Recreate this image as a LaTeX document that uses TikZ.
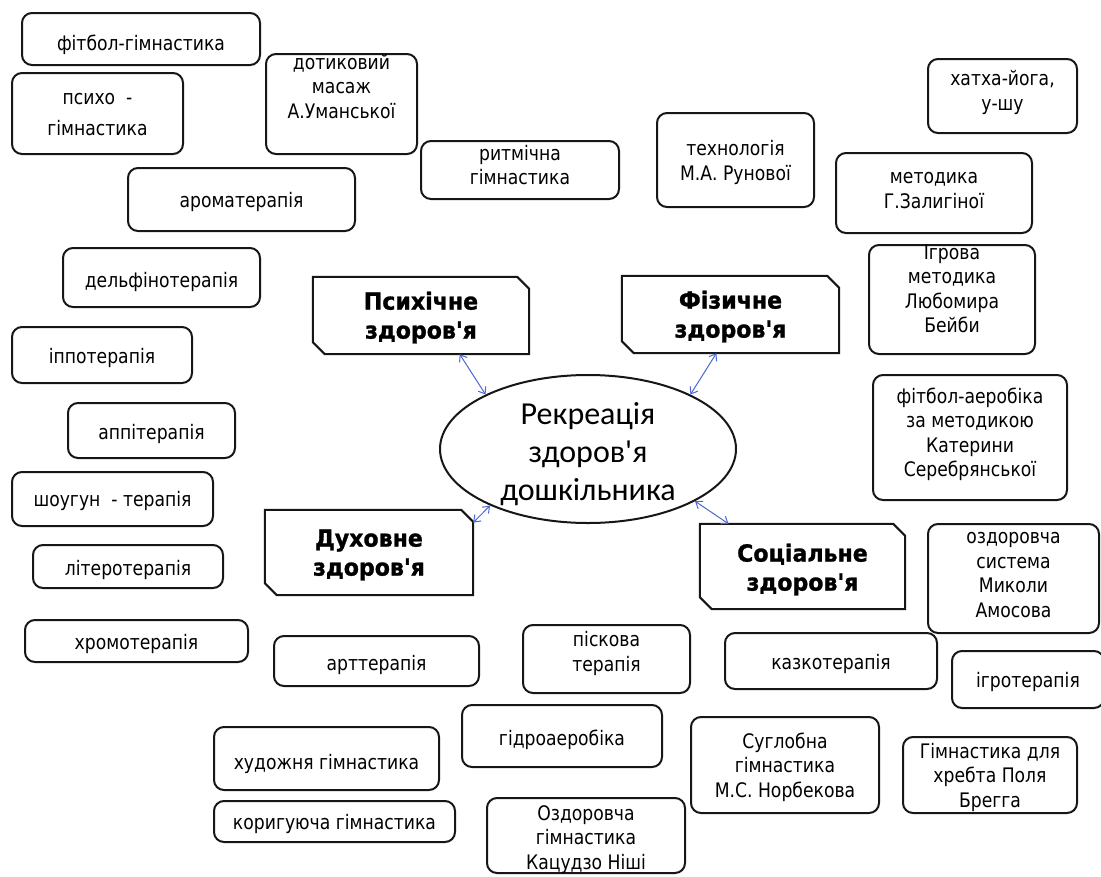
\documentclass[tikz,border=0pt]{standalone}
\usepackage{fontspec}
\newfontfamily\bxf{DejaVu Sans}[FakeStretch=0.86]
\newfontfamily\bdf{DejaVu Sans}[FakeStretch=0.94, BoldFeatures={FakeBold=1.2}]
\newfontfamily\elf{Carlito}
\usetikzlibrary{shapes.geometric,arrows.meta}
\definecolor{arrowblue}{RGB}{72,104,214}
\definecolor{edgecol}{RGB}{22,22,22}
\newcommand\tx[2][0pt]{\raisebox{\dimexpr#1-4pt\relax}[0pt][0pt]{\begin{tabular}{@{}c@{}}#2\end{tabular}}}
\newcommand\chamf[1]{\draw[catline] (#1.north west) -- ([xshift=-12pt]#1.north east)
  -- ([yshift=-12pt]#1.north east) -- (#1.south east) -- ([xshift=12pt]#1.south west)
  -- ([yshift=12pt]#1.south west) -- cycle;}
\tikzset{
  rbox/.style={draw=edgecol, line width=2pt, rounded corners=10pt, inner sep=0pt,
    font=\bxf\fontsize{20}{24.5}\selectfont},
  catbox/.style={rectangle, inner sep=0pt,
    font=\bdf\bfseries\fontsize{23.5}{29}\selectfont},
  catline/.style={draw=edgecol, line width=2pt},
  hub/.style={ellipse, draw=edgecol, line width=2pt, inner sep=0pt,
    font=\elf\fontsize{32}{38}\selectfont},
  link/.style={draw=arrowblue, line width=1pt,
    {Straight Barb[length=6pt,width=9pt]}-{Straight Barb[length=6pt,width=9pt]}},
}
\begin{document}
\begin{tikzpicture}[x=1pt,y=-1pt]
\useasboundingbox (0,0) rectangle (1101,876);
% centre
\node[hub, minimum width=296pt, minimum height=148pt] (ell) at (588,449)
  {\tx[-8pt]{Рекреація\\здоров'я\\дошкільника}};
% category boxes
\node[catbox, minimum width=216pt, minimum height=77pt] (psy) at (421,315.5) {\tx[-5pt]{Психічне\\здоров'я}};
\node[catbox, minimum width=217pt, minimum height=77pt] (phy) at (730.5,314.5) {\tx[-5pt]{Фізичне\\здоров'я}};
\node[catbox, minimum width=208pt, minimum height=85pt] (spi) at (369,552.5) {\tx[-5pt]{Духовне\\здоров'я}};
\node[catbox, minimum width=205pt, minimum height=85pt] (soc) at (802.5,566.5) {\tx[-6pt]{Соціальне\\здоров'я}};
\chamf{psy}
\chamf{phy}
\chamf{spi}
\chamf{soc}
% rounded boxes
\node[rbox, minimum width=238pt, minimum height=52pt] (fitg) at (141,39) {\tx[-8pt]{фітбол-гімнастика}};
\node[rbox, minimum width=171pt, minimum height=81pt] (psyg) at (97.5,113.5) {\tx[-3pt]{психо\ \ -\\[6pt]гімнастика}};
\node[rbox, minimum width=151pt, minimum height=100pt] (dotyk) at (341.5,104) {\tx[14pt]{дотиковий\\масаж\\А.Уманської}};
\node[rbox, minimum width=198pt, minimum height=58pt] (ritm) at (520,170) {\tx[1pt]{ритмічна\\гімнастика}};
\node[rbox, minimum width=227pt, minimum height=63pt] (arom) at (241.5,199.5) {\tx[-4pt]{ароматерапія}};
\node[rbox, minimum width=157pt, minimum height=94pt] (tech) at (735.5,160) {\tx[-4.5pt]{технологія\\М.А. Рунової}};
\node[rbox, minimum width=149pt, minimum height=74pt] (hatha) at (1002.5,96) {\tx[1.5pt]{хатха-йога,\\у-шу}};
\node[rbox, minimum width=196pt, minimum height=80pt] (zal) at (934,193) {\tx[0.5pt]{методика\\Г.Залигіної}};
\node[rbox, minimum width=166pt, minimum height=109pt] (igr) at (952,299.5) {\tx[7pt]{Ігрова\\методика\\Любомира\\Бейби}};
\node[rbox, minimum width=197pt, minimum height=59pt] (delf) at (161.5,277.5) {\tx[-6pt]{дельфінотерапія}};
\node[rbox, minimum width=180pt, minimum height=56pt] (ippo) at (102,355) {\tx[-5pt]{іппотерапія}};
\node[rbox, minimum width=167pt, minimum height=55pt] (appi) at (151.5,430.5) {\tx[-5pt]{аппітерапія}};
\node[rbox, minimum width=201pt, minimum height=54pt] (shou) at (112.5,499) {\tx[-4pt]{шоугун\ \ - терапія}};
\node[rbox, minimum width=190pt, minimum height=43pt] (liter) at (128,566.5) {\tx[-5pt]{літеротерапія}};
\node[rbox, minimum width=223pt, minimum height=42pt] (chrom) at (136.5,641) {\tx[-5pt]{хромотерапія}};
\node[rbox, minimum width=194pt, minimum height=125pt] (fitaer) at (970,437.5) {\tx[1pt]{фітбол-аеробіка\\за методикою\\Катерини\\Серебрянської}};
\node[rbox, minimum width=171pt, minimum height=109pt] (amos) at (1013.5,578.5) {\tx[1.5pt]{оздоровча\\система\\Миколи\\Амосова}};
\node[rbox, minimum width=152pt, minimum height=57pt] (igro) at (1028,679.5) {\tx[-4.5pt]{ігротерапія}};
\node[rbox, minimum width=212pt, minimum height=56pt] (kazk) at (831,661) {\tx[-5pt]{казкотерапія}};
\node[rbox, minimum width=167pt, minimum height=68pt] (pisk) at (606.5,659) {\tx[3.5pt]{піскова\\терапія}};
\node[rbox, minimum width=205pt, minimum height=50pt] (art) at (376.5,661) {\tx[-6pt]{арттерапія}};
\node[rbox, minimum width=200pt, minimum height=62pt] (hydro) at (562,736) {\tx[-6pt]{гідроаеробіка}};
\node[rbox, minimum width=225pt, minimum height=63pt] (hud) at (326.5,758.5) {\tx[-7pt]{художня гімнастика}};
\node[rbox, minimum width=241pt, minimum height=41pt] (kor) at (334.5,821.5) {\tx[-4pt]{коригуюча гімнастика}};
\node[rbox, minimum width=198pt, minimum height=75pt] (ozd) at (586,835.5) {\tx[-5.5pt]{Оздоровча\\гімнастика\\Кацудзо Ніші}};
\node[rbox, minimum width=188pt, minimum height=96pt] (sugl) at (785,765) {\tx[-4pt]{Суглобна\\гімнастика\\М.С. Норбекова}};
\node[rbox, minimum width=174pt, minimum height=76pt] (breg) at (990,775) {\tx[-4pt]{Гімнастика для\\хребта Поля\\Брегга}};
% connectors
\draw[link] (psy.-45) -- (ell.152);
\draw[link] (phy.250) -- (ell.28);
\draw[link] (spi.16) -- (ell.210);
\draw[link] (ell.-26) -- (soc.150);
\end{tikzpicture}
\end{document}
